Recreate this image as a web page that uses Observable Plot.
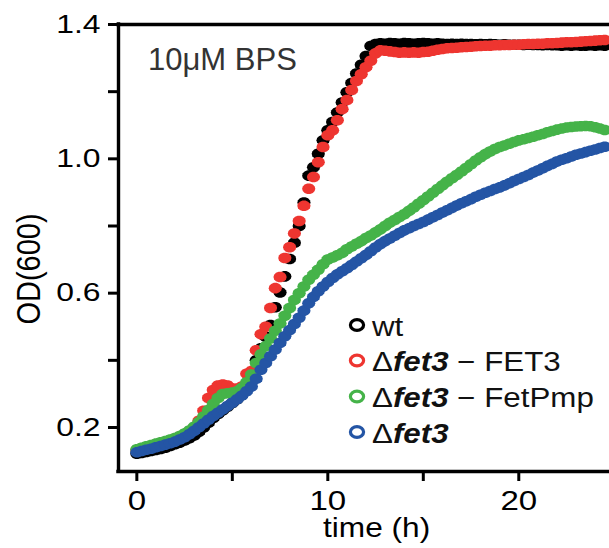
<!DOCTYPE html>
<html><head><meta charset="utf-8">
<script src="https://cdn.jsdelivr.net/npm/d3@7"></script>
<script src="https://cdn.jsdelivr.net/npm/@observablehq/plot@0.6"></script>
<style>body{margin:0;background:#fff} svg{display:block;overflow:visible}</style>
</head><body><div id="chart"></div>
<script>
const times = [0,0.25,0.5,0.75,1,1.25,1.5,1.75,2,2.25,2.5,2.75,3,3.25,3.5,3.75,4,4.25,4.5,4.75,5,5.25,5.5,5.75,6,6.25,6.5,6.75,7,7.25,7.5,7.75,8,8.25,8.5,8.75,9,9.25,9.5,9.75,10,10.25,10.5,10.75,11,11.25,11.5,11.75,12,12.25,12.5,12.75,13,13.25,13.5,13.75,14,14.25,14.5,14.75,15,15.25,15.5,15.75,16,16.25,16.5,16.75,17,17.25,17.5,17.75,18,18.25,18.5,18.75,19,19.25,19.5,19.75,20,20.25,20.5,20.75,21,21.25,21.5,21.75,22,22.25,22.5,22.75,23,23.25,23.5,23.75,24,24.25,24.5];

const wt = [0.122,0.124,0.127,0.130,0.133,0.136,0.140,0.145,0.150,0.155,
0.161,0.168,0.176,0.187,0.200,0.214,0.228,0.240,0.251,0.262,
0.273,0.284,0.297,0.322,0.360,0.400,0.436,0.470,0.505,0.558,
0.602,0.650,0.702,0.750,0.800,0.870,0.950,0.975,1.015,1.055,
1.085,1.110,1.138,1.168,1.198,1.226,1.254,1.280,1.306,1.336,
1.342,1.344,1.343,1.345,1.344,1.343,1.345,1.344,1.343,1.344,
1.345,1.344,1.343,1.344,1.343,1.342,1.343,1.342,1.343,1.342,
1.342,1.341,1.342,1.341,1.342,1.341,1.340,1.341,1.340,1.340,
1.340,1.339,1.340,1.339,1.339,1.338,1.339,1.338,1.338,1.337,
1.338,1.337,1.338,1.337,1.337,1.338,1.337,1.338,1.337];

const fet3FET3 = [0.133,0.138,0.142,0.146,0.150,0.154,0.158,0.162,0.167,0.173,
0.180,0.189,0.200,0.220,0.250,0.288,0.312,0.325,0.328,0.325,
0.316,0.316,0.322,0.360,0.368,0.430,0.478,0.500,0.556,0.615,
0.648,0.705,0.737,0.778,0.815,0.860,0.911,0.946,0.990,1.035,
1.070,1.085,1.115,1.148,1.175,1.205,1.232,1.252,1.273,1.292,
1.314,1.323,1.322,1.320,1.318,1.316,1.317,1.316,1.317,1.316,
1.318,1.319,1.322,1.325,1.327,1.329,1.330,1.331,1.332,1.333,
1.334,1.335,1.336,1.337,1.337,1.338,1.338,1.339,1.339,1.340,
1.340,1.341,1.342,1.342,1.343,1.343,1.344,1.344,1.345,1.346,
1.347,1.347,1.348,1.349,1.350,1.351,1.352,1.353,1.354];

const fet3FetPmp = [0.135,0.140,0.144,0.148,0.152,0.156,0.160,0.164,0.169,0.175,
0.182,0.191,0.202,0.216,0.233,0.252,0.270,0.288,0.300,0.302,
0.304,0.308,0.318,0.335,0.358,0.392,0.418,0.442,0.465,0.488,
0.510,0.533,0.556,0.580,0.600,0.620,0.640,0.655,0.670,0.686,
0.700,0.706,0.713,0.720,0.731,0.739,0.747,0.755,0.764,0.772,
0.781,0.790,0.800,0.810,0.818,0.827,0.835,0.845,0.855,0.866,
0.877,0.888,0.899,0.910,0.921,0.932,0.942,0.952,0.962,0.973,
0.984,0.995,1.005,1.014,1.022,1.029,1.035,1.040,1.045,1.050,
1.055,1.058,1.062,1.066,1.070,1.074,1.079,1.083,1.087,1.090,
1.093,1.095,1.096,1.097,1.098,1.097,1.094,1.090,1.086];

const fet3 = [0.126,0.130,0.134,0.137,0.141,0.145,0.149,0.153,0.158,0.164,
0.171,0.180,0.190,0.201,0.212,0.223,0.234,0.244,0.254,0.264,
0.274,0.284,0.295,0.308,0.322,0.345,0.372,0.392,0.412,0.432,
0.452,0.472,0.490,0.508,0.527,0.548,0.570,0.589,0.606,0.620,
0.633,0.645,0.656,0.665,0.674,0.684,0.694,0.704,0.714,0.725,
0.736,0.746,0.755,0.763,0.771,0.779,0.787,0.793,0.800,0.806,
0.812,0.819,0.826,0.833,0.840,0.847,0.854,0.861,0.868,0.874,
0.880,0.887,0.893,0.899,0.904,0.910,0.915,0.921,0.927,0.934,
0.940,0.946,0.952,0.959,0.965,0.972,0.979,0.985,0.992,0.997,
1.002,1.007,1.012,1.016,1.020,1.024,1.028,1.032,1.036];

const seriesNames = ["wt", "Δfet3 − FET3", "Δfet3 − FetPmp", "Δfet3"];
const seriesValues = [wt, fet3FET3, fet3FetPmp, fet3];
const seriesColors = ["#000000", "#ee3530", "#45b349", "#2455a5"];

const xDomain = [-0.96, 24.75];
const yDomain = [0.069, 1.4];
const xTicks = [0, 5, 10, 15, 20];
const xTickLabels = ["0", "", "10", "", "20"];
const yTicks = [0.2, 0.4, 0.6, 0.8, 1.0, 1.2, 1.4];
const yTickLabels = ["0.2", "", "0.6", "", "1.0", "", "1.4"];

const ellipse = {
  draw(ctx) {
    const rx = 6.6, ry = 5.4, n = 14;
    for (let k = 0; k < n; k++) {
      const a = 2 * Math.PI * k / n;
      const px = rx * Math.cos(a), py = ry * Math.sin(a);
      if (k) ctx.lineTo(px, py); else ctx.moveTo(px, py);
    }
    ctx.closePath();
  }
};

const dotMarks = seriesNames.map((name, si) => {
  const data = times.map((t, i) => ({t, v: seriesValues[si][i], s: name}));
  return Plot.dot(data, {x: "t", y: "v", fill: "s", symbol: ellipse, stroke: null});
});

const svg = Plot.plot({
  width: 609,
  height: 548,
  marginLeft: 118,
  marginRight: 0,
  marginTop: 24,
  marginBottom: 77,
  style: {fontFamily: "'Liberation Sans', Arial, sans-serif", color: "black", background: "white"},
  x: {domain: xDomain},
  y: {domain: yDomain},
  color: {domain: seriesNames, range: seriesColors},
  marks: [
    ...dotMarks,
    Plot.ruleY([yDomain[1]], {stroke: "black", strokeWidth: 3.4, strokeLinecap: "square"}),
    Plot.ruleY([yDomain[0]], {stroke: "black", strokeWidth: 3.4, strokeLinecap: "square"}),
    Plot.ruleX([xDomain[0]], {stroke: "black", strokeWidth: 3.4, strokeLinecap: "square"}),
    Plot.axisX({ticks: xTicks, tickSize: 10, tickPadding: 9, strokeWidth: 3, fontSize: 28,
      tickFormat: d => xTickLabels[xTicks.indexOf(d)], label: null}),
    Plot.axisY({ticks: yTicks, tickSize: 10, tickPadding: 8, strokeWidth: 3, fontSize: 25.5,
      tickFormat: d => yTickLabels[yTicks.indexOf(d)], label: null})
  ]
});

// horizontal stretch of tick labels, as in the reference
svg.querySelectorAll("text").forEach(el => {
  const g = el.closest("g[aria-label]");
  const lab = g ? g.getAttribute("aria-label") : "";
  const tr = el.getAttribute("transform") || "";
  if (lab.includes("y-axis")) el.setAttribute("transform", tr + " scale(1.25,1)");
  else if (lab.includes("x-axis")) el.setAttribute("transform", tr + " scale(1.18,1)");
});

const S = d3.select(svg);
const font = "'Liberation Sans', Arial, sans-serif";

S.append("text").attr("x", 148).attr("y", 70).attr("font-size", 31).attr("text-anchor", "start")
  .attr("font-family", font).attr("fill", "#333").text("10μM BPS");

S.append("text").attr("transform", "translate(323,537) scale(1.13,1)").attr("text-anchor", "start")
  .attr("font-size", 28).attr("font-family", font).attr("fill", "black").text("time (h)");

S.append("text").attr("transform", "translate(40,269) rotate(-90) scale(1,1.17)")
  .attr("font-size", 29).attr("font-family", font).attr("fill", "black")
  .attr("text-anchor", "middle").text("OD(600)");

const legendRows = [325, 360.5, 396.5, 432];
const lg = S.append("g").attr("font-family", font).attr("font-size", 27).attr("fill", "#111")
  .attr("text-anchor", "start");
seriesNames.forEach((name, i) => {
  const cy = legendRows[i];
  lg.append("ellipse").attr("cx", 357).attr("cy", cy).attr("rx", 6.6).attr("ry", 5.3)
    .attr("fill", "none").attr("stroke", seriesColors[i]).attr("stroke-width", 3.2);
  const t = lg.append("text").attr("text-anchor", "start")
    .attr("transform", `translate(372,${cy + 10.5}) scale(1.16,1)`);
  if (name === "wt") {
    t.text("wt");
  } else {
    t.append("tspan").text("Δ");
    t.append("tspan").attr("font-weight", "bold").attr("font-style", "italic").text("fet3");
    const rest = name.slice(5);
    if (rest) t.append("tspan").text(rest);
  }
});

document.getElementById("chart").appendChild(svg);
</script>
</body></html>
